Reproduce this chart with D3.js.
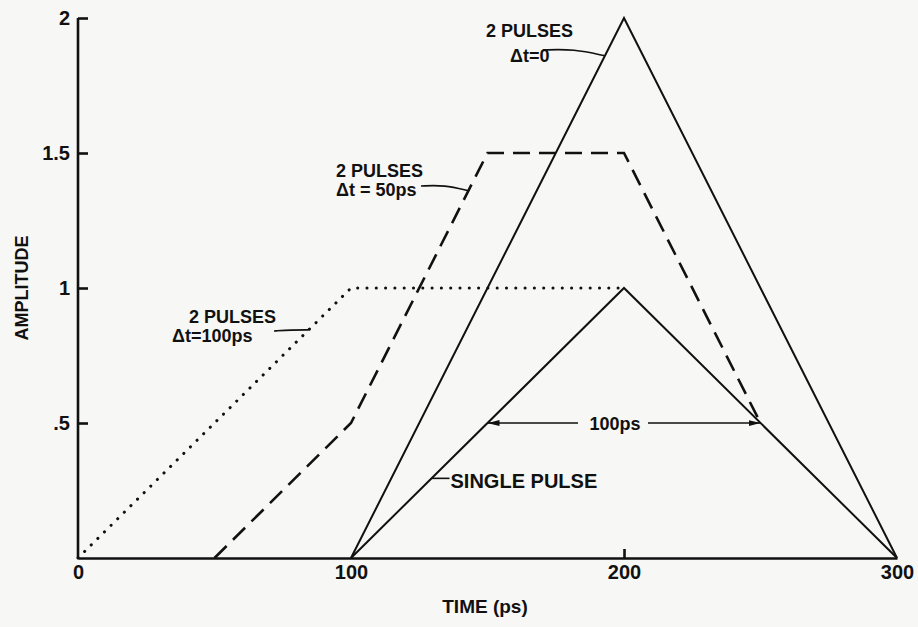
<!DOCTYPE html>
<html>
<head>
	<meta charset="utf-8">
	<style>
		body { margin: 0; background: #f7f7f5; }
		text { font-family: "Liberation Sans", Arial, sans-serif; font-weight: bold; fill: #111; }
	</style>
</head>
<body>
	<script src="https://d3js.org/d3.v7.min.js"></script>

	<script>
		// pulse shapes, time in ps, amplitude
		const singleTime = [100, 200, 300];
		const singleAmp  = [0, 1, 0];

		const dt0Time = [100, 200, 300];
		const dt0Amp  = [0, 2, 0];

		const dt50Time = [50, 100, 150, 200, 250];
		const dt50Amp  = [0, 0.5, 1.5, 1.5, 0.5];

		const dt100Time = [0, 100, 200];
		const dt100Amp  = [0, 1, 1];

		const xTicks = [0, 100, 200, 300];
		const xTickLabels = ['0', '100', '200', '300'];
		const yTicks = [0.5, 1, 1.5, 2];
		const yTickLabels = ['.5', '1', '1.5', '2'];

		const w = 918;
		const h = 627;

		const svg = d3.select('body')
			.append('svg')
			.attr('width', w)
			.attr('height', h);

		const x = d3.scaleLinear()
			.domain([0, 300])
			.range([78, 897]);

		const y = d3.scaleLinear()
			.domain([0, 2])
			.range([558, 18]);

		const toPts = (ts, as) => ts.map((t, i) => ({ t: t, a: as[i] }));
		const single = toPts(singleTime, singleAmp);
		const dt0 = toPts(dt0Time, dt0Amp);
		const dt50 = toPts(dt50Time, dt50Amp);
		const dt100 = toPts(dt100Time, dt100Amp);

		// axes
		const yAxis = d3.axisLeft(y)
			.tickValues(yTicks)
			.tickFormat((d, i) => yTickLabels[i])
			.tickSizeInner(-10)
			.tickSizeOuter(0)
			.tickPadding(8);

		const gy = svg.append('g')
			.attr('transform', `translate(${x(0)}, 0)`)
			.call(yAxis);
		gy.select('.domain').attr('d', `M0,${y(0)}V${y(2)}`);

		const xAxis = d3.axisBottom(x)
			.tickValues(xTicks)
			.tickFormat((d, i) => xTickLabels[i])
			.tickSize(0)
			.tickPadding(7);

		svg.append('g')
			.attr('transform', `translate(0, ${y(0)})`)
			.call(xAxis);

		// the small upward tick at 200
		svg.append('g')
			.attr('transform', `translate(0, ${y(0)})`)
			.call(d3.axisBottom(x).tickValues([200]).tickFormat('').tickSizeInner(-9).tickSizeOuter(0))
			.select('.domain').remove();

		svg.selectAll('.domain, .tick line')
			.attr('stroke', '#111')
			.attr('stroke-width', 2.6);

		svg.selectAll('.tick text')
			.attr('font-size', 20)
			.attr('font-family', '"Liberation Sans", Arial, sans-serif')
			.attr('font-weight', 'bold')
			.attr('fill', '#111');

		// axis titles
		svg.append('text')
			.attr('transform', `translate(28, ${y(1)}) rotate(-90)`)
			.attr('text-anchor', 'middle')
			.attr('font-size', 18)
			.text('AMPLITUDE');

		svg.append('text')
			.attr('x', 485)
			.attr('y', 613)
			.attr('text-anchor', 'middle')
			.attr('font-size', 19)
			.text('TIME (ps)');

		// curves
		const line = d3.line()
			.x(d => x(d.t))
			.y(d => y(d.a));

		svg.append('path')
			.attr('d', line(dt100))
			.attr('fill', 'none')
			.attr('stroke', '#111')
			.attr('stroke-width', 3)
			.attr('stroke-linecap', 'round')
			.attr('stroke-dasharray', '0.1 9.2');

		svg.append('path')
			.attr('d', line(dt50))
			.attr('fill', 'none')
			.attr('stroke', '#111')
			.attr('stroke-width', 2.6)
			.attr('stroke-dasharray', '17 9');

		svg.append('path')
			.attr('d', line(dt0))
			.attr('fill', 'none')
			.attr('stroke', '#111')
			.attr('stroke-width', 2);

		svg.append('path')
			.attr('d', line(single))
			.attr('fill', 'none')
			.attr('stroke', '#111')
			.attr('stroke-width', 2);

		// time on a rising segment for a given amplitude
		function timeAt(pts, amp) {
			for (let i = 1; i < pts.length; i++) {
				const p = pts[i - 1], q = pts[i];
				if (q.a > p.a && amp >= p.a && amp <= q.a) {
					return p.t + (amp - p.a) / (q.a - p.a) * (q.t - p.t);
				}
			}
			return pts[0].t;
		}

		// labels with leader lines
		const notes = [
			{ lines: ['2 PULSES', 'Δt=0'], x: [486, 510], y: [37, 62], from: [543, 50], pts: dt0, amp: 1.86 },
			{ lines: ['2 PULSES', 'Δt = 50ps'], x: [336, 336], y: [177, 196], from: [421, 186], pts: dt50, amp: 1.36 },
			{ lines: ['2 PULSES', 'Δt=100ps'], x: [189, 172], y: [323, 342], from: [274, 331], pts: dt100, amp: 0.845 }
		];

		const leader = d3.line().curve(d3.curveBasis);

		notes.forEach(n => {
			n.lines.forEach((s, i) => {
				svg.append('text')
					.attr('x', n.x[i])
					.attr('y', n.y[i])
					.attr('font-size', 18)
					.text(s);
			});
			const ex = x(timeAt(n.pts, n.amp));
			const ey = y(n.amp);
			const mx = (n.from[0] + ex) / 2;
			svg.append('path')
				.attr('d', leader([n.from, [mx, n.from[1] - 1], [ex, ey]]))
				.attr('fill', 'none')
				.attr('stroke', '#111')
				.attr('stroke-width', 1.6);
		});

		// single pulse label
		const spAmp = 0.295;
		const spX = x(timeAt(single, spAmp));
		svg.append('line')
			.attr('x1', spX)
			.attr('x2', spX + 18)
			.attr('y1', y(spAmp))
			.attr('y2', y(spAmp))
			.attr('stroke', '#111')
			.attr('stroke-width', 1.6);
		svg.append('text')
			.attr('x', spX + 19)
			.attr('y', y(spAmp) + 10)
			.attr('font-size', 20)
			.text('SINGLE PULSE');

		// 100ps width marker at half amplitude
		const defs = svg.append('defs');
		defs.append('marker')
			.attr('id', 'arrow')
			.attr('viewBox', '0 0 12 6')
			.attr('refX', 12)
			.attr('refY', 3)
			.attr('markerWidth', 12)
			.attr('markerHeight', 6)
			.attr('markerUnits', 'userSpaceOnUse')
			.attr('orient', 'auto')
			.append('path')
			.attr('d', 'M0,0L12,3L0,6Z')
			.attr('fill', '#111');

		const halfY = y(0.5);
		const leftX = x(150);
		const rightX = x(250);
		const labelX = 615;

		svg.append('line')
			.attr('x1', labelX - 37).attr('x2', leftX)
			.attr('y1', halfY).attr('y2', halfY)
			.attr('stroke', '#111').attr('stroke-width', 1.6)
			.attr('marker-end', 'url(#arrow)');
		svg.append('line')
			.attr('x1', labelX + 33).attr('x2', rightX)
			.attr('y1', halfY).attr('y2', halfY)
			.attr('stroke', '#111').attr('stroke-width', 1.6)
			.attr('marker-end', 'url(#arrow)');
		svg.append('text')
			.attr('x', labelX)
			.attr('y', halfY + 7)
			.attr('text-anchor', 'middle')
			.attr('font-size', 18)
			.text('100ps');
	</script>
</body>
</html>
